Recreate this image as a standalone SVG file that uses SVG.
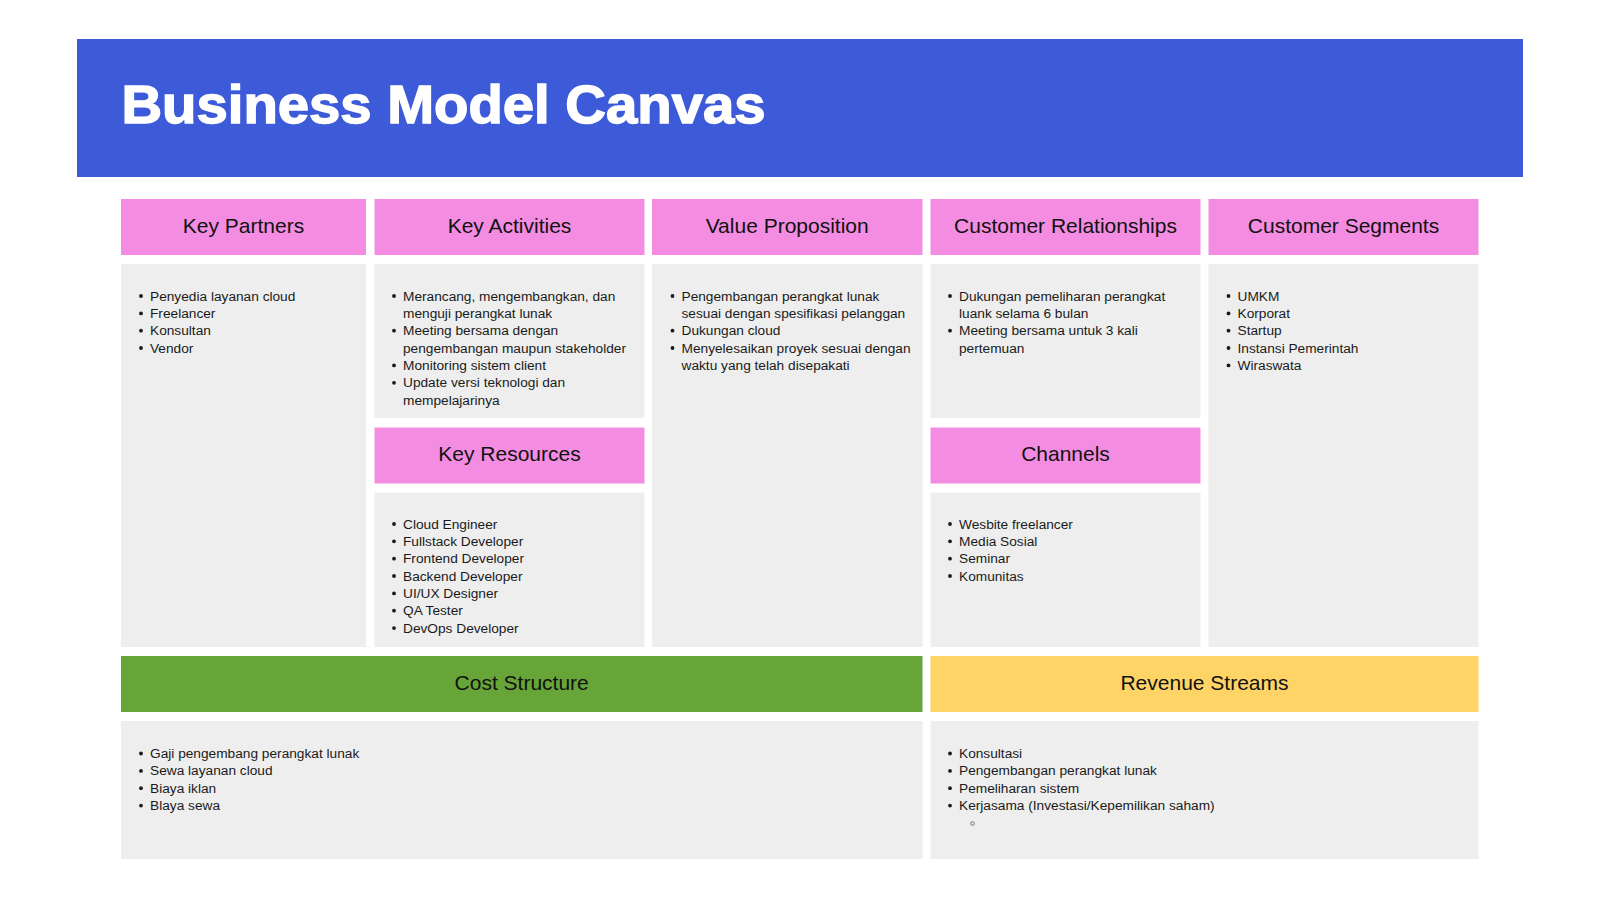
<svg xmlns="http://www.w3.org/2000/svg" width="1600" height="900" viewBox="0 0 1600 900">
<style>
.pink{fill:#F48DE1}
.grey{fill:#EEEEEE}
.hd{font-family:"Liberation Sans",Arial,sans-serif;font-size:21px;fill:#111;text-anchor:middle}
.bd{font-family:"Liberation Sans",Arial,sans-serif;font-size:13.7px;fill:#1a1a1a}
.dot{fill:#1a1a1a}
</style>
<rect width="1600" height="900" fill="#FFFFFF"/>
<g id="title">
<rect x="77" y="39" width="1446" height="138" fill="#3D5BD9"/>
<text x="121.5" y="123" font-family="'Liberation Sans',Arial,sans-serif" font-weight="bold" font-size="53" fill="#FFFFFF" stroke="#FFFFFF" stroke-width="1.4" textLength="644" lengthAdjust="spacingAndGlyphs">Business Model Canvas</text>
</g>
<g id="key-partners">
<rect class="pink" x="121" y="199" width="245" height="56"/>
<text class="hd" x="243.5" y="232.5">Key Partners</text>
<rect class="grey" x="121" y="264" width="245" height="383"/>
<g class="dot"><circle cx="141" cy="296" r="1.9"/><circle cx="141" cy="313.4" r="1.9"/><circle cx="141" cy="330.7" r="1.9"/><circle cx="141" cy="348" r="1.9"/></g>
<text class="bd" x="150" y="300.5">Penyedia layanan cloud</text>
<text class="bd" x="150" y="317.9">Freelancer</text>
<text class="bd" x="150" y="335.2">Konsultan</text>
<text class="bd" x="150" y="352.5">Vendor</text>
</g>
<g id="key-activities">
<rect class="pink" x="374.5" y="199" width="270" height="56"/>
<text class="hd" x="509.5" y="232.5">Key Activities</text>
<rect class="grey" x="374.5" y="264" width="270" height="154"/>
<g class="dot"><circle cx="394" cy="296" r="1.9"/><circle cx="394" cy="330.7" r="1.9"/><circle cx="394" cy="365.4" r="1.9"/><circle cx="394" cy="382.8" r="1.9"/></g>
<text class="bd" x="403" y="300.5">Merancang, mengembangkan, dan</text>
<text class="bd" x="403" y="317.9">menguji perangkat lunak</text>
<text class="bd" x="403" y="335.2">Meeting bersama dengan</text>
<text class="bd" x="403" y="352.5">pengembangan maupun stakeholder</text>
<text class="bd" x="403" y="369.9">Monitoring sistem client</text>
<text class="bd" x="403" y="387.3">Update versi teknologi dan</text>
<text class="bd" x="403" y="404.6">mempelajarinya</text>
</g>
<g id="key-resources">
<rect class="pink" x="374.5" y="427.5" width="270" height="56"/>
<text class="hd" x="509.5" y="461">Key Resources</text>
<rect class="grey" x="374.5" y="492.5" width="270" height="154.5"/>
<g class="dot"><circle cx="394" cy="524" r="1.9"/><circle cx="394" cy="541.3" r="1.9"/><circle cx="394" cy="558.7" r="1.9"/><circle cx="394" cy="576" r="1.9"/><circle cx="394" cy="593.4" r="1.9"/><circle cx="394" cy="610.7" r="1.9"/><circle cx="394" cy="628.1" r="1.9"/></g>
<text class="bd" x="403" y="528.5">Cloud Engineer</text>
<text class="bd" x="403" y="545.8">Fullstack Developer</text>
<text class="bd" x="403" y="563.2">Frontend Developer</text>
<text class="bd" x="403" y="580.5">Backend Developer</text>
<text class="bd" x="403" y="597.9">UI/UX Designer</text>
<text class="bd" x="403" y="615.2">QA Tester</text>
<text class="bd" x="403" y="632.6">DevOps Developer</text>
</g>
<g id="value-proposition">
<rect class="pink" x="652" y="199" width="270.5" height="56"/>
<text class="hd" x="787.2" y="232.5">Value Proposition</text>
<rect class="grey" x="652" y="264" width="270.5" height="383"/>
<g class="dot"><circle cx="672.5" cy="296" r="1.9"/><circle cx="672.5" cy="330.7" r="1.9"/><circle cx="672.5" cy="348" r="1.9"/></g>
<text class="bd" x="681.5" y="300.5">Pengembangan perangkat lunak</text>
<text class="bd" x="681.5" y="317.9">sesuai dengan spesifikasi pelanggan</text>
<text class="bd" x="681.5" y="335.2">Dukungan cloud</text>
<text class="bd" x="681.5" y="352.5">Menyelesaikan proyek sesuai dengan</text>
<text class="bd" x="681.5" y="369.9">waktu yang telah disepakati</text>
</g>
<g id="customer-relationships">
<rect class="pink" x="930.5" y="199" width="270" height="56"/>
<text class="hd" x="1065.5" y="232.5">Customer Relationships</text>
<rect class="grey" x="930.5" y="264" width="270" height="154"/>
<g class="dot"><circle cx="950" cy="296" r="1.9"/><circle cx="950" cy="330.7" r="1.9"/></g>
<text class="bd" x="959" y="300.5">Dukungan pemeliharan perangkat</text>
<text class="bd" x="959" y="317.9">luank selama 6 bulan</text>
<text class="bd" x="959" y="335.2">Meeting bersama untuk 3 kali</text>
<text class="bd" x="959" y="352.5">pertemuan</text>
</g>
<g id="channels">
<rect class="pink" x="930.5" y="427.5" width="270" height="56"/>
<text class="hd" x="1065.5" y="461">Channels</text>
<rect class="grey" x="930.5" y="492.5" width="270" height="154.5"/>
<g class="dot"><circle cx="950" cy="524" r="1.9"/><circle cx="950" cy="541.3" r="1.9"/><circle cx="950" cy="558.7" r="1.9"/><circle cx="950" cy="576" r="1.9"/></g>
<text class="bd" x="959" y="528.5">Wesbite freelancer</text>
<text class="bd" x="959" y="545.8">Media Sosial</text>
<text class="bd" x="959" y="563.2">Seminar</text>
<text class="bd" x="959" y="580.5">Komunitas</text>
</g>
<g id="customer-segments">
<rect class="pink" x="1208.5" y="199" width="270" height="56"/>
<text class="hd" x="1343.5" y="232.5">Customer Segments</text>
<rect class="grey" x="1208.5" y="264" width="270" height="383"/>
<g class="dot"><circle cx="1228.5" cy="296" r="1.9"/><circle cx="1228.5" cy="313.4" r="1.9"/><circle cx="1228.5" cy="330.7" r="1.9"/><circle cx="1228.5" cy="348" r="1.9"/><circle cx="1228.5" cy="365.4" r="1.9"/></g>
<text class="bd" x="1237.5" y="300.5">UMKM</text>
<text class="bd" x="1237.5" y="317.9">Korporat</text>
<text class="bd" x="1237.5" y="335.2">Startup</text>
<text class="bd" x="1237.5" y="352.5">Instansi Pemerintah</text>
<text class="bd" x="1237.5" y="369.9">Wiraswata</text>
</g>
<g id="cost-structure">
<rect x="121" y="656" width="801.5" height="56" fill="#67A538"/>
<text class="hd" x="521.7" y="689.5">Cost Structure</text>
<rect class="grey" x="121" y="721" width="801.5" height="138"/>
<g class="dot"><circle cx="141" cy="753.5" r="1.9"/><circle cx="141" cy="770.9" r="1.9"/><circle cx="141" cy="788.2" r="1.9"/><circle cx="141" cy="805.6" r="1.9"/></g>
<text class="bd" x="150" y="758">Gaji pengembang perangkat lunak</text>
<text class="bd" x="150" y="775.4">Sewa layanan cloud</text>
<text class="bd" x="150" y="792.7">Biaya iklan</text>
<text class="bd" x="150" y="810.1">Blaya sewa</text>
</g>
<g id="revenue-streams">
<rect x="930.5" y="656" width="548" height="56" fill="#FFD466"/>
<text class="hd" x="1204.5" y="689.5">Revenue Streams</text>
<rect class="grey" x="930.5" y="721" width="548" height="138"/>
<g class="dot"><circle cx="950" cy="753.5" r="1.9"/><circle cx="950" cy="770.9" r="1.9"/><circle cx="950" cy="788.2" r="1.9"/><circle cx="950" cy="805.6" r="1.9"/></g>
<circle cx="972.5" cy="823.5" r="1.8" fill="none" stroke="#555" stroke-width="0.8"/>
<text class="bd" x="959" y="758">Konsultasi</text>
<text class="bd" x="959" y="775.4">Pengembangan perangkat lunak</text>
<text class="bd" x="959" y="792.7">Pemeliharan sistem</text>
<text class="bd" x="959" y="810.1">Kerjasama (Investasi/Kepemilikan saham)</text>
</g>
</svg>
